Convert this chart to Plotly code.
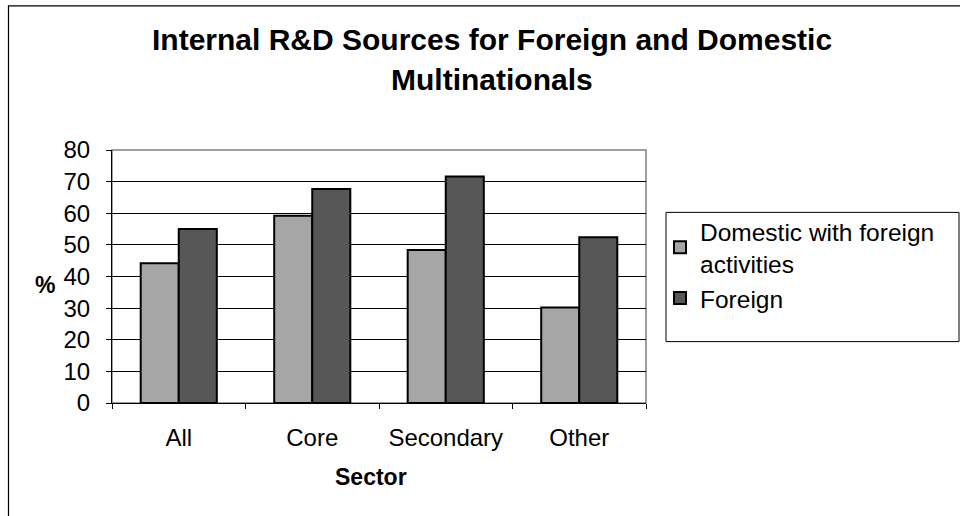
import plotly.graph_objects as go

# ---- data ----
categories = ["All", "Core", "Secondary", "Other"]
domestic = [44.2, 59.2, 48.4, 30.2]
foreign = [55.0, 67.7, 71.6, 52.4]
series_names = ["Domestic with foreign<br>activities", "Foreign"]
y_ticks = [0, 10, 20, 30, 40, 50, 60, 70, 80]

FONT = "Liberation Sans, Arial, sans-serif"
W, H = 960, 516
L, R, T, B = 112, 314, 150, 112.5
pw = W - L - R
ph = H - T - B

def px_x(x):
    return (x - L) / pw

def px_y(y):
    return (H - B - y) / ph

fig = go.Figure()
fig.add_trace(go.Bar(x=categories, y=domestic, name=series_names[0],
                     marker=dict(color="#a6a6a6", line=dict(color="#000000", width=2))))
fig.add_trace(go.Bar(x=categories, y=foreign, name=series_names[1],
                     marker=dict(color="#575757", line=dict(color="#000000", width=2))))

fig.update_layout(
    width=W, height=H,
    margin=dict(l=L, r=R, t=T, b=B, autoexpand=False),
    paper_bgcolor="white", plot_bgcolor="white",
    font=dict(family=FONT, size=24, color="#000000"),
    barmode="group", bargap=0.43, bargroupgap=0,
    showlegend=True,
    legend=dict(x=px_x(660), y=px_y(209), xanchor="left", yanchor="top",
                borderwidth=0, bgcolor="rgba(0,0,0,0)",
                font=dict(family=FONT, size=24.5),
                entrywidth=260, entrywidthmode="pixels",
                itemwidth=30),
)

fig.update_xaxes(type="category", showgrid=False, showline=True, linecolor="#000000", linewidth=1,
                 ticks="outside", tickson="boundaries", ticklen=5, tickcolor="#000000",
                 ticklabelstandoff=13, tickfont=dict(size=24), zeroline=False)
fig.update_yaxes(range=[0, 80], tickvals=y_ticks, showgrid=True, gridcolor="#000000", gridwidth=1,
                 showline=True, linecolor="#000000", linewidth=1, ticks="outside", ticklen=5,
                 tickcolor="#000000", ticklabelstandoff=11, tickfont=dict(size=24), zeroline=False)

# plot-area border (grey), legend box and outer chart frame
fig.add_shape(type="rect", xref="paper", yref="paper", x0=0, x1=1, y0=0, y1=1,
              line=dict(color="#808080", width=1.5), layer="below")
fig.add_shape(type="rect", xref="paper", yref="paper",
              x0=px_x(666), x1=px_x(959), y0=px_y(342), y1=px_y(212.5),
              line=dict(color="#000000", width=1))
fig.add_shape(type="rect", xref="paper", yref="paper",
              x0=px_x(8.5), x1=px_x(975), y0=px_y(530), y1=px_y(5.5),
              line=dict(color="#000000", width=1.2))

# title lines
fig.add_annotation(text="<b>Internal R&D Sources for Foreign and Domestic</b>", xref="paper", yref="paper",
                   x=px_x(492), y=px_y(39), xanchor="center", yanchor="middle", showarrow=False,
                   font=dict(family=FONT, size=30))
fig.add_annotation(text="<b>Multinationals</b>", xref="paper", yref="paper",
                   x=px_x(492), y=px_y(79), xanchor="center", yanchor="middle", showarrow=False,
                   font=dict(family=FONT, size=30))
# axis titles
fig.add_annotation(text="<b>%</b>", xref="paper", yref="paper",
                   x=px_x(45), y=px_y(285), xanchor="center", yanchor="middle", showarrow=False,
                   font=dict(family=FONT, size=23))
fig.add_annotation(text="<b>Sector</b>", xref="paper", yref="paper",
                   x=px_x(371), y=px_y(478), xanchor="center", yanchor="middle", showarrow=False,
                   font=dict(family=FONT, size=23))

fig.write_html("out.html", config={"displayModeBar": False},
               post_script="document.body.style.margin='0';")
